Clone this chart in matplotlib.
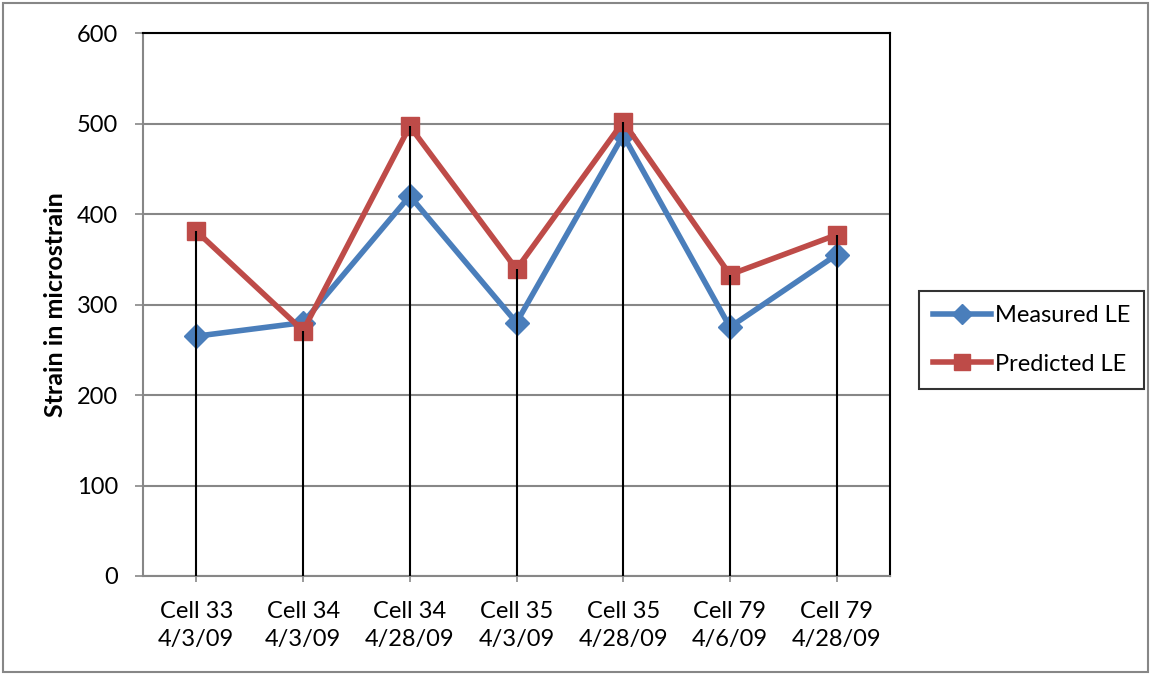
import numpy as np
import matplotlib.pyplot as plt
from matplotlib.patches import Rectangle

CATEGORIES = ["Cell 33\n4/3/09", "Cell 34\n4/3/09", "Cell 34\n4/28/09", "Cell 35\n4/3/09",
              "Cell 35\n4/28/09", "Cell 79\n4/6/09", "Cell 79\n4/28/09"]
MEASURED = [265, 280, 420, 280, 487, 275, 355]
PREDICTED = [381, 271, 497, 339, 502, 333, 377]

BLUE = "#4a7ebb"
RED = "#be4b48"
GRID = "#878787"
FS = 17

plt.rcParams["font.family"] = ["Lato", "DejaVu Sans"]

fig = plt.figure(figsize=(11.51, 6.75), dpi=100)
ax = fig.add_axes([143 / 1151, 1 - 576 / 675, (890 - 143) / 1151, (576 - 33) / 675])

x = np.arange(len(CATEGORIES))
ax.plot(x, MEASURED, color=BLUE, lw=4.0, marker="D", ms=12.5, mec=BLUE, mfc=BLUE,
        label="Measured LE", zorder=3)
ax.plot(x, PREDICTED, color=RED, lw=4.0, marker="s", ms=13.5, mec=RED, mfc=RED,
        label="Predicted LE", zorder=4)

# drop lines, drawn on top of the markers like in Excel
ax.vlines(x, 0, PREDICTED, color="black", lw=1.5, zorder=5)

ax.set_xlim(-0.5, len(CATEGORIES) - 0.5)
ax.set_ylim(0, 600)
ax.set_yticks(np.arange(0, 601, 100))
ax.set_xticks(x)
ax.set_xticklabels(CATEGORIES, fontsize=FS, linespacing=1.4)
ax.tick_params(axis="y", labelsize=FS, length=5.8, color=GRID, width=1.2, pad=12)
ax.tick_params(axis="x", length=4.3, color=GRID, width=1.2, pad=14)
ax.yaxis.grid(True, color=GRID, lw=1.5)
ax.set_axisbelow(True)

for s in ["left", "bottom"]:
    ax.spines[s].set_color(GRID)
    ax.spines[s].set_linewidth(1.5)
for s in ["top", "right"]:
    ax.spines[s].set_color("black")
    ax.spines[s].set_linewidth(1.5)

ax.set_ylabel("Strain in microstrain", fontsize=18, fontweight="bold", labelpad=7)

leg = ax.legend(loc="center left", bbox_to_anchor=(919 / 1151, 1 - 340 / 675),
                bbox_transform=fig.transFigure, fontsize=FS, frameon=True,
                fancybox=False, edgecolor="black", handlelength=2.45, labelspacing=1.15,
                borderpad=0.6, handletextpad=0.15, borderaxespad=0, markerscale=0.85)
leg.get_frame().set_linewidth(1.5)

# outer chart border
fig.patches.append(Rectangle((3 / 1151, 3 / 675), 1 - 6 / 1151, 1 - 6 / 675,
                             transform=fig.transFigure, fill=False, ec=GRID, lw=1.5))

fig.savefig("out.png", dpi=100)
